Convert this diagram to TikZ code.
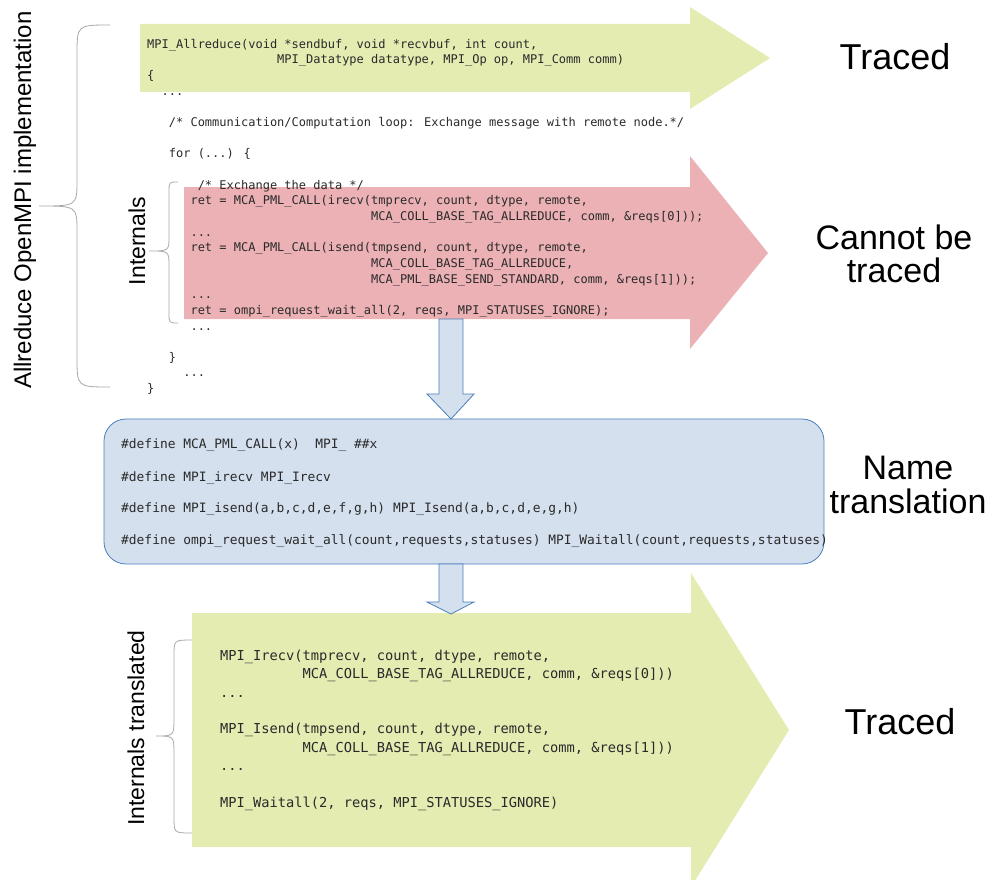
\documentclass[tikz,border=0pt]{standalone}
\usepackage{fontspec}
\setmainfont{Liberation Sans}
\newfontfamily\codefont{DejaVu Sans Mono}
% indentation by a number of monospace character cells
\newcommand\ind[1]{\hspace*{#1\fontcharwd\font`\x}}
% baselines of the upper listing
\newcommand\ty[1]{48.3+15.65*#1}
\newcommand\by[1]{660.6+18.3*#1}
\definecolor{tracegreen}{HTML}{E4ECB2}
\definecolor{nottraced}{HTML}{EBB1B4}
\definecolor{deffill}{HTML}{D4E0EE}
\definecolor{defline}{HTML}{4A7EBB}
\definecolor{bracegray}{HTML}{A8A8A8}
\definecolor{codetext}{HTML}{2A2A2A}
\tikzset{
  codeA/.style={anchor=base west, inner sep=0pt, text=codetext,
    font=\codefont\fontsize{12}{14}\selectfont},
  codeB/.style={anchor=base west, inner sep=0pt, text=codetext,
    font=\codefont\fontsize{12.9}{15}\selectfont},
  codeC/.style={anchor=base west, inner sep=0pt, text=codetext,
    font=\codefont\fontsize{13.7}{16}\selectfont},
  biglabel/.style={align=center, inner sep=0pt,
    font=\fontsize{34}{33.5}\selectfont},
  tracedlabel/.style={inner sep=0pt, font=\fontsize{36}{36}\selectfont},
  sidelabel/.style={rotate=90, inner sep=0pt,
    font=\fontsize{23}{26}\selectfont},
  bracepath/.style={draw=bracegray, line width=0.8pt},
  downarrow/.style={fill=deffill, draw=defline, line width=0.8pt, line join=miter},
}
\begin{document}
\begin{tikzpicture}[x=1pt, y=-1pt]
\useasboundingbox (0,0) rectangle (990,880);
\clip (0,0) rectangle (990,880);

% block arrows
\fill[tracegreen] (140,24) -- (690,24) -- (690,7) -- (770,58) -- (690,109)
  -- (690,92) -- (140,92) -- cycle;
\fill[nottraced] (184,187) -- (690,187) -- (690,156) -- (768,253) -- (690,349)
  -- (690,319) -- (184,319) -- cycle;
\fill[tracegreen] (192,613) -- (691,613) -- (691,573) -- (789,730) -- (691,887)
  -- (691,847) -- (192,847) -- cycle;

% macro definitions box
\node[draw=defline, fill=deffill, line width=0.8pt, rounded corners=22pt,
  minimum width=720pt, minimum height=145pt, inner sep=0pt] (defs) at (464,491.5) {};

% down arrows
\draw[downarrow] (439,319) -- (463,319) -- (463,394) -- (474,394) -- (451,419)
  -- (427,394) -- (439,394) -- cycle;
\draw[downarrow] (439,564) -- (463,564) -- (463,602) -- (474,602) -- (451,614)
  -- (427,602) -- (439,602) -- cycle;

% braces
\draw[bracepath] (110,25) .. controls (77,25) .. (77,55) -- (77,180)
  .. controls (77,206) .. (39,206) .. controls (77,206) .. (77,232)
  -- (77,357) .. controls (77,387) .. (110,387);
\draw[bracepath] (178,182) .. controls (169,182) .. (169,192) -- (169,236)
  .. controls (169,251) .. (149,251) .. controls (169,251) .. (169,266)
  -- (169,313) .. controls (169,323) .. (178,323);
\draw[bracepath] (192,640) .. controls (174,640) .. (174,656) -- (174,718)
  .. controls (174,736) .. (156,736) .. controls (174,736) .. (174,754)
  -- (174,817) .. controls (174,833) .. (192,833);

% side labels
\node[sidelabel, font=\fontsize{24}{26}\selectfont] (impl) at (25,200) {Allreduce OpenMPI implementation};
\node[sidelabel] (intern) at (137,241) {Internals};
\node[sidelabel] (interntr) at (136,728) {Internals translated};

% right-hand labels
\node[tracedlabel] (traced1) at (895,57) {Traced};
\node[biglabel] (cannot) at (894,254) {Cannot be\\traced};
\node[biglabel] (nametr) at (908,485) {Name\\translation};
\node[tracedlabel] (traced2) at (900,722) {Traced};

% Allreduce source
\node[codeA] (t0) at (147,{\ty{0}}) {MPI\_Allreduce(void *sendbuf, void *recvbuf, int count,};
\node[codeA] (t1) at (147,{\ty{1}}) {\ind{18}MPI\_Datatype datatype, MPI\_Op op, MPI\_Comm comm)};
\node[codeA] (t2) at (147,{\ty{2}}) {\{};
\node[codeA] (t3) at (147,{\ty{3}}) {\ind{2}...};
\node[codeA] (t5) at (147,{\ty{5}}) {\ind{3}/* Communication/Computation loop: Exchange message with remote node.*/};
\node[codeA] (t7) at (147,{\ty{7}}) {\ind{3}for (...) \{};
\node[codeA] (t9) at (147,{\ty{9}}) {\ind{7}/* Exchange the data */};
\node[codeA] (t10) at (147,{\ty{10}}) {\ind{6}ret = MCA\_PML\_CALL(irecv(tmprecv, count, dtype, remote,};
\node[codeA] (t11) at (147,{\ty{11}}) {\ind{31}MCA\_COLL\_BASE\_TAG\_ALLREDUCE, comm, \&reqs[0]));};
\node[codeA] (t12) at (147,{\ty{12}}) {\ind{6}...};
\node[codeA] (t13) at (147,{\ty{13}}) {\ind{6}ret = MCA\_PML\_CALL(isend(tmpsend, count, dtype, remote,};
\node[codeA] (t14) at (147,{\ty{14}}) {\ind{31}MCA\_COLL\_BASE\_TAG\_ALLREDUCE,};
\node[codeA] (t15) at (147,{\ty{15}}) {\ind{31}MCA\_PML\_BASE\_SEND\_STANDARD, comm, \&reqs[1]));};
\node[codeA] (t16) at (147,{\ty{16}}) {\ind{6}...};
\node[codeA] (t17) at (147,{\ty{17}}) {\ind{6}ret = ompi\_request\_wait\_all(2, reqs, MPI\_STATUSES\_IGNORE);};
\node[codeA] (t18) at (147,{\ty{18}}) {\ind{6}...};
\node[codeA] (t20) at (147,{\ty{20}}) {\ind{3}\}};
\node[codeA] (t21) at (147,{\ty{21}}) {\ind{5}...};
\node[codeA] (t22) at (147,{\ty{22}}) {\}};

% name translation macros
\node[codeB] (d1) at (121,448.6) {\#define MCA\_PML\_CALL(x)\ind{2}MPI\_ \#\#x};
\node[codeB] (d2) at (121,481.6) {\#define MPI\_irecv MPI\_Irecv};
\node[codeB] (d3) at (121,512.6) {\#define MPI\_isend(a,b,c,d,e,f,g,h) MPI\_Isend(a,b,c,d,e,g,h)};
\node[codeB] (d4) at (121,544.6) {\#define ompi\_request\_wait\_all(count,requests,statuses) MPI\_Waitall(count,requests,statuses)};

% translated internals
\node[codeC] (b0) at (220,{\by{0}}) {MPI\_Irecv(tmprecv, count, dtype, remote,};
\node[codeC] (b1) at (220,{\by{1}}) {\ind{10}MCA\_COLL\_BASE\_TAG\_ALLREDUCE, comm, \&reqs[0]))};
\node[codeC] (b2) at (220,{\by{2}}) {...};
\node[codeC] (b4) at (220,{\by{4}}) {MPI\_Isend(tmpsend, count, dtype, remote,};
\node[codeC] (b5) at (220,{\by{5}}) {\ind{10}MCA\_COLL\_BASE\_TAG\_ALLREDUCE, comm, \&reqs[1]))};
\node[codeC] (b6) at (220,{\by{6}}) {...};
\node[codeC] (b8) at (220,{\by{8}}) {MPI\_Waitall(2, reqs, MPI\_STATUSES\_IGNORE)};
\end{tikzpicture}
\end{document}
